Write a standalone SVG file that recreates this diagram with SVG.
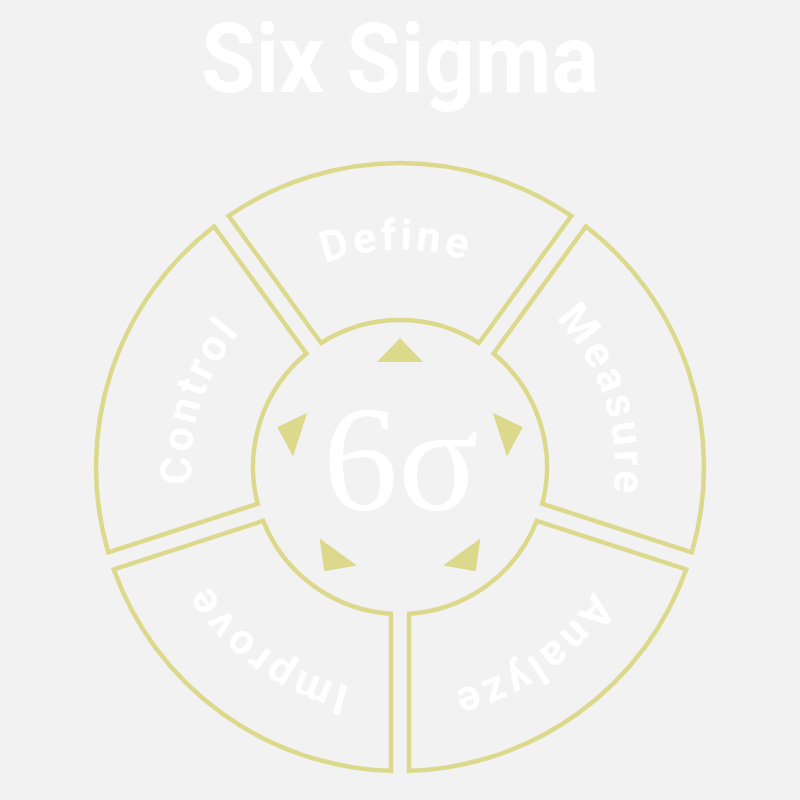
<svg xmlns="http://www.w3.org/2000/svg" xmlns:xlink="http://www.w3.org/1999/xlink" width="800" height="800" viewBox="0 0 800 800">
  <style>
    .seg { fill: none; stroke: #dcd98c; stroke-width: 4.5; stroke-linejoin: miter; }
    .lbl { font-family: Roboto, "Liberation Sans", sans-serif; font-weight: bold; font-size: 43px; fill: #ffffff; letter-spacing: 3.5px; }
    .tri { fill: #dcd98c; }
    .title { font-family: Roboto, "Liberation Sans", sans-serif; font-weight: bold; font-size: 97px; fill: #ffffff; }
    .sig { font-family: "Liberation Serif", "DejaVu Serif", serif; font-size: 150px; fill: #ffffff; }
  </style>
  <defs>
    <path id="tri" d="M 0,-129 L 23,-105 L -23,-105 Z"/>
    <!-- label arcs: centered at each segment's mid-angle, clockwise -->
    <path id="arcDefine" d="M 186.99,508.41 A 217 217 0 1 1 614.33,500.95"/>
    <path id="arcMeasure" d="M 299.06,277.16 A 215 215 0 1 1 429.92,679.91"/>
    <path id="arcAnalyze" d="M 562.63,304.37 A 230 230 0 1 1 191.55,564.20"/>
    <path id="arcImprove" d="M 602.22,565.63 A 225 225 0 1 1 243.70,305.15"/>
    <path id="arcControl" d="M 370.91,673.97 A 209 209 0 1 1 498.12,282.46"/>
  </defs>
  <rect x="0" y="0" width="800" height="800" fill="#f2f2f2"/>
  <g id="title">
    <text class="title" x="400" y="92" text-anchor="middle" textLength="398" lengthAdjust="spacingAndGlyphs">Six Sigma</text>
  </g>
  <g id="define">
    <path class="seg" d="M 321.04,343.01 L 228.67,215.87 A 304 304 0 0 1 571.33,215.87 L 478.96,343.01 A 147 147 0 0 0 321.04,343.01 Z"/>
    <text class="lbl"><textPath xlink:href="#arcDefine" href="#arcDefine" startOffset="50%" text-anchor="middle">Define</textPath></text>
  </g>
  <g id="measure">
    <path class="seg" d="M 493.52,353.59 L 585.89,226.45 A 304 304 0 0 1 691.78,552.34 L 542.32,503.78 A 147 147 0 0 0 493.52,353.59 Z"/>
    <text class="lbl"><textPath xlink:href="#arcMeasure" href="#arcMeasure" startOffset="50%" text-anchor="middle">Measure</textPath></text>
  </g>
  <g id="analyze">
    <path class="seg" d="M 536.76,520.90 L 686.22,569.46 A 304 304 0 0 1 409,770.87 L 409,613.72 A 147 147 0 0 0 536.76,520.90 Z"/>
    <text class="lbl"><textPath xlink:href="#arcAnalyze" href="#arcAnalyze" startOffset="50%" text-anchor="middle">Analyze</textPath></text>
  </g>
  <g id="improve">
    <path class="seg" d="M 391,613.72 L 391,770.87 A 304 304 0 0 1 113.78,569.46 L 263.24,520.90 A 147 147 0 0 0 391,613.72 Z"/>
    <text class="lbl"><textPath xlink:href="#arcImprove" href="#arcImprove" startOffset="50%" text-anchor="middle">Improve</textPath></text>
  </g>
  <g id="control">
    <path class="seg" d="M 257.68,503.78 L 108.22,552.34 A 304 304 0 0 1 214.11,226.45 L 306.48,353.59 A 147 147 0 0 0 257.68,503.78 Z"/>
    <text class="lbl"><textPath xlink:href="#arcControl" href="#arcControl" startOffset="50%" text-anchor="middle">Control</textPath></text>
  </g>
  <g id="center">
    <g transform="translate(400,467)">
      <use href="#tri" xlink:href="#tri" class="tri"/>
      <use href="#tri" xlink:href="#tri" class="tri" transform="rotate(72)"/>
      <use href="#tri" xlink:href="#tri" class="tri" transform="rotate(144)"/>
      <use href="#tri" xlink:href="#tri" class="tri" transform="rotate(216)"/>
      <use href="#tri" xlink:href="#tri" class="tri" transform="rotate(288)"/>
    </g>
    <text class="sig" x="401" y="510" text-anchor="middle">6σ</text>
  </g>
  <g id="connectors"></g>
</svg>
